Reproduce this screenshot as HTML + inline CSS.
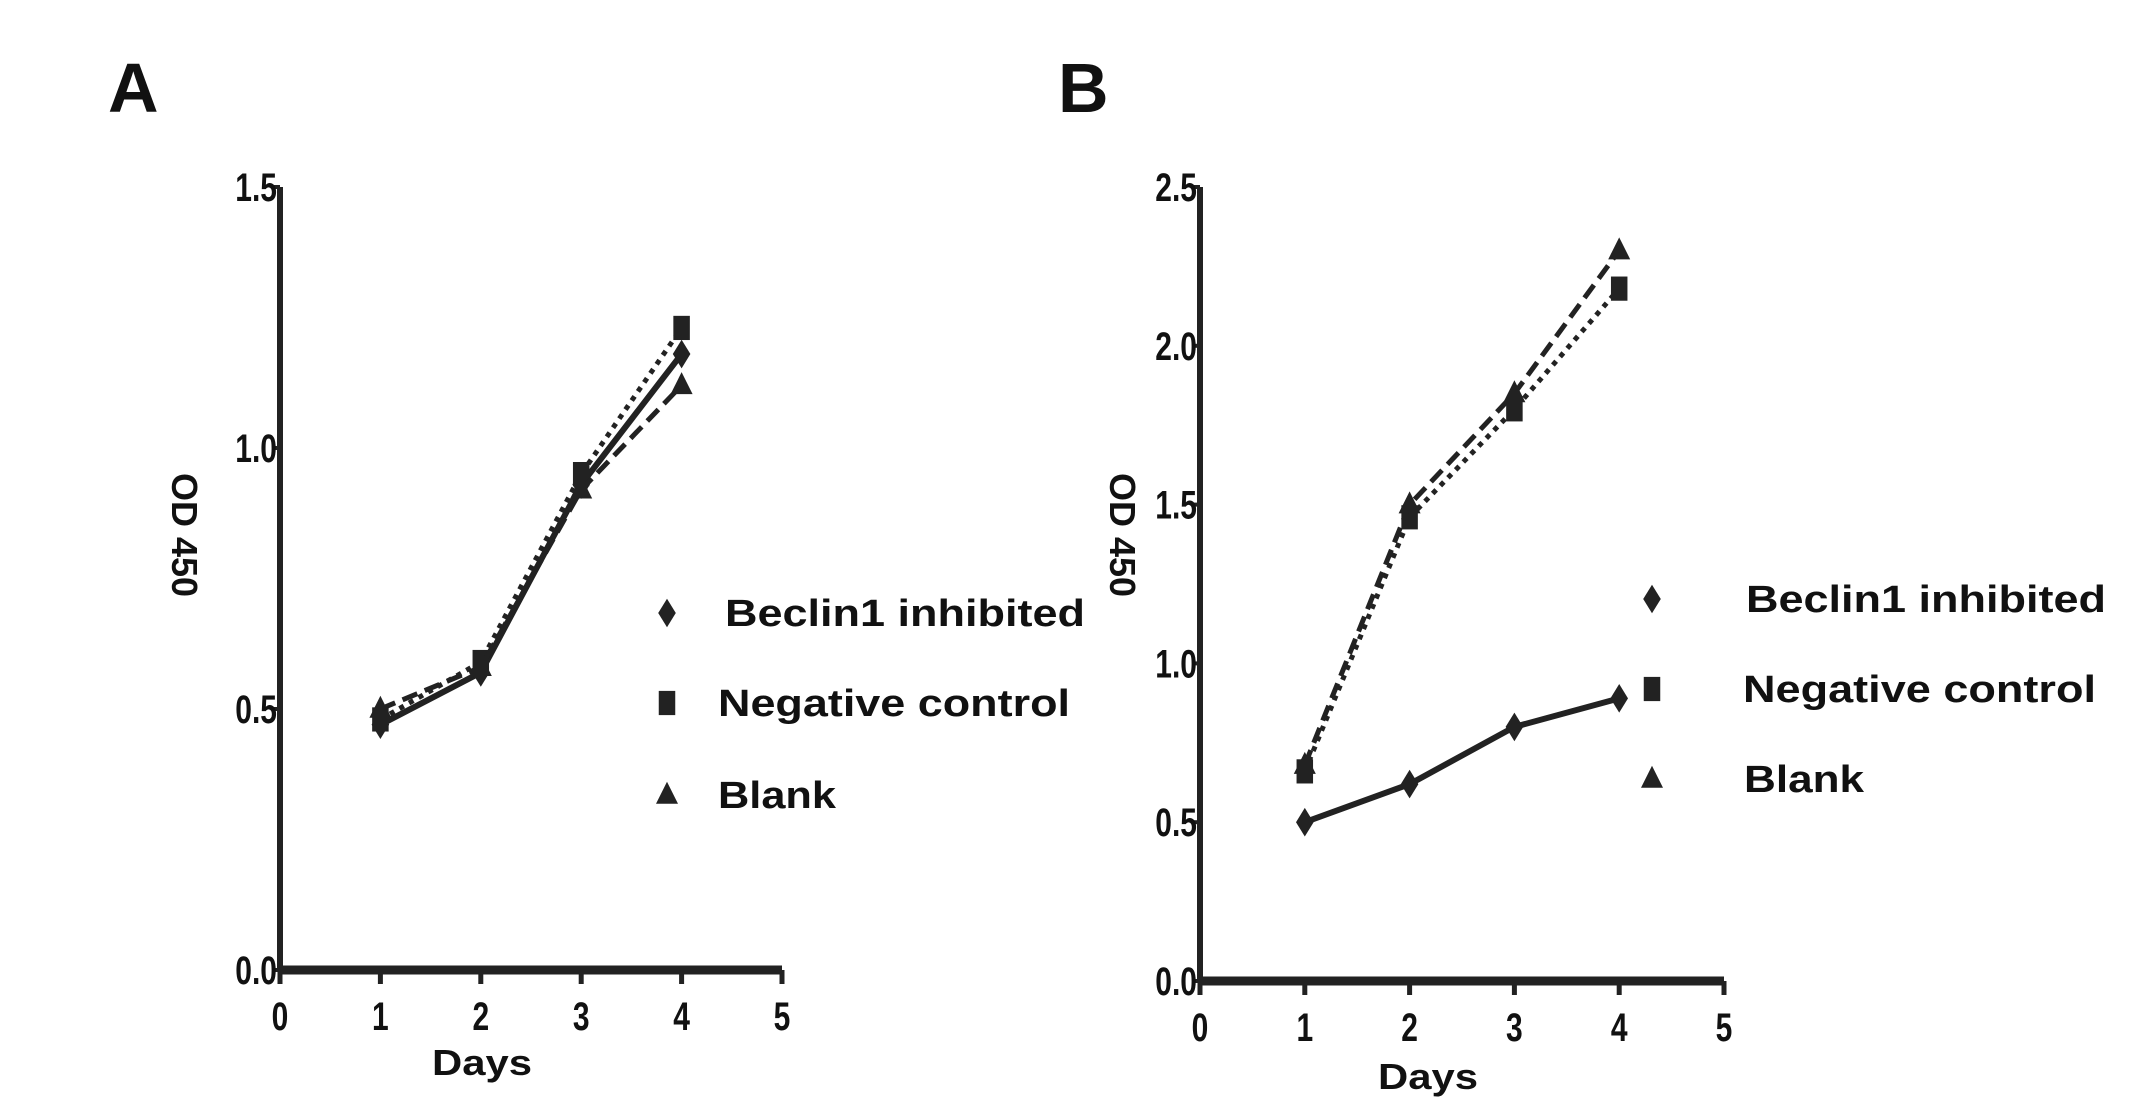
<!DOCTYPE html>
<html><head><meta charset="utf-8"><style>
html,body{margin:0;padding:0;background:#fff;}
svg{display:block;}
text{font-family:"Liberation Sans",sans-serif;fill:#111;}
.tick{font-weight:bold;font-size:40px;}
.leg{font-weight:bold;font-size:38px;}
</style></head><body>
<svg id="fig" width="2145" height="1114" viewBox="0 0 2145 1114">
<text x="108" y="112" font-size="70" font-weight="bold">A</text>
<text x="1058" y="112" font-size="70" font-weight="bold">B</text>
</svg>
<script>
const days=[1,2,3,4];
const xTicks=["0","1","2","3","4","5"];
const seriesNames=["Beclin1 inhibited","Negative control","Blank"];
const aBeclin=[0.47,0.57,0.93,1.18];
const aNeg=[0.48,0.59,0.95,1.23];
const aBlank=[0.50,0.58,0.92,1.12];
const aYTicks=["0.0","0.5","1.0","1.5"];
const aYMax=1.5;
const bBeclin=[0.50,0.62,0.80,0.89];
const bNeg=[0.66,1.46,1.80,2.18];
const bBlank=[0.68,1.50,1.85,2.30];
const bYTicks=["0.0","0.5","1.0","1.5","2.0","2.5"];
const bYMax=2.5;

const NS="http://www.w3.org/2000/svg";
const svg=document.getElementById('fig');
function mk(tag,attrs,parent){const e=document.createElementNS(NS,tag);for(const k in attrs)e.setAttribute(k,attrs[k]);(parent||svg).appendChild(e);return e;}

function marker(g,type,x,y,s){
  let e;
  if(type==0){e=mk('path',{d:`M${x},${y-s*1.3} L${x+s*0.8},${y} L${x},${y+s*1.3} L${x-s*0.8},${y} Z`,fill:'#222'},g);}
  else if(type==1){e=mk('rect',{x:x-s*0.75,y:y-s*1.1,width:s*1.5,height:s*2.2,fill:'#222'},g);}
  else {e=mk('path',{d:`M${x},${y-s*1.2} L${x+s},${y+s*0.8} L${x-s},${y+s*0.8} Z`,fill:'#222'},g);}
  return e;
}

function panel(id,x0,x5,y0,yTop,yMax,yTicks,series,legX,legTX,legYs,legW,titleX,titleY,daysX,daysY){
  const g=mk('g',{});
  
  
  const sx=v=>x0+(x5-x0)*v/5;
  const sy=v=>y0-(y0-yTop)*v/yMax;
  const ax=mk('line',{x1:x0,y1:yTop,x2:x0,y2:y0,stroke:'#222','stroke-width':6},g);
  
  const bx=mk('line',{x1:x0,y1:y0,x2:x5,y2:y0,stroke:'#222','stroke-width':9},g);
  
  xTicks.forEach((t,i)=>{
    const x=sx(i);
    mk('line',{x1:x,y1:y0,x2:x,y2:y0+14,stroke:'#222','stroke-width':5},g);
    const tx=mk('text',{x:x,y:y0+60,'text-anchor':'middle',class:'tick',transform:`translate(${x},0) scale(0.75,1) translate(${-x},0)`},g);
    tx.textContent=t;
    
  });
  yTicks.forEach((t,i)=>{
    const v=i*0.5,y=sy(v);
    mk('line',{x1:x0-6,y1:y,x2:x0,y2:y,stroke:'#222','stroke-width':4},g);
    const tx=mk('text',{x:x0-4,y:y+14,'text-anchor':'end',class:'tick',transform:`translate(${x0},0) scale(0.75,1) translate(${-x0},0)`},g);
    tx.textContent=t;
    
  });
  const dashes=['none','5,6','16,8'];
  series.forEach((vals,si)=>{
    const pts=vals.map((v,i)=>sx(days[i])+','+sy(v)).join(' ');
    const l=mk('polyline',{points:pts,fill:'none',stroke:'#222','stroke-width':si==0?6:5,'stroke-dasharray':dashes[si]},g);
    
    
    vals.forEach((v,i)=>{
      const m=marker(g,si,sx(days[i]),sy(v),11);
      
      
    });
  });
  seriesNames.forEach((n,i)=>{
    const m=marker(g,i,legX,legYs[i]-13,11);
    
    
    const t=mk('text',{x:legTX[i],y:legYs[i],class:'leg',textLength:legW[i],lengthAdjust:'spacingAndGlyphs'},g);
    t.textContent=n;
    
    
  });
  const yt=mk('text',{x:titleX,y:titleY,'text-anchor':'middle','font-size':36,'font-weight':'bold',transform:`rotate(90 ${titleX} ${titleY})`},g);
  yt.textContent='OD 450';
  
  const dt=mk('text',{x:daysX,y:daysY,'text-anchor':'middle','font-size':36,'font-weight':'bold',textLength:100,lengthAdjust:'spacingAndGlyphs'},g);
  dt.textContent='Days';
  
}
panel('panel-a',280,782,970,187,aYMax,aYTicks,[aBeclin,aNeg,aBlank],667,[725,718,718],[626,716,808],[360,352,118],172,535,482,1075);
panel('panel-b',1200,1724,981,187,bYMax,bYTicks,[bBeclin,bNeg,bBlank],1652,[1746,1743,1744],[612,702,792],[360,353,120],1110,535,1428,1089);
</script>
</body></html>
